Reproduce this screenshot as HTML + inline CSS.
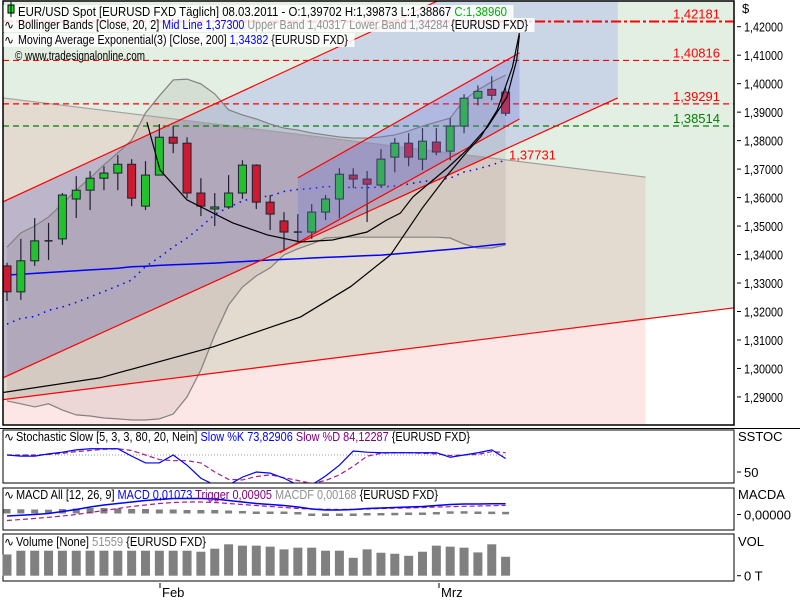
<!DOCTYPE html>
<html><head><meta charset="utf-8"><style>
body{margin:0;background:#fff;}
svg{display:block;font-family:"Liberation Sans","DejaVu Sans",sans-serif;}
</style></head><body>
<svg id="chart" width="800" height="600" viewBox="0 0 800 600" xmlns="http://www.w3.org/2000/svg">
<defs>
<clipPath id="mainClip"><rect x="3" y="1" width="731" height="424"/></clipPath>
<clipPath id="stochClip"><rect x="3" y="430" width="731" height="53"/></clipPath>
<clipPath id="macdClip"><rect x="3" y="489" width="731" height="41"/></clipPath>
</defs>
<rect width="800" height="600" fill="#fff"/>
<g id="main" clip-path="url(#mainClip)"></g>
<rect x="3" y="1" width="731" height="424" fill="none" stroke="#000" stroke-width="1.5"/>
<line x1="0" y1="428.5" x2="800" y2="428.5" stroke="#000"/>
<g id="axis"></g>
<g id="legend"></g>
<rect x="3" y="430" width="731" height="53" fill="none" stroke="#000"/>
<rect x="3" y="488" width="731" height="42" fill="none" stroke="#000"/>
<rect x="3" y="534" width="731" height="47" fill="none" stroke="#000"/>
<g id="stoch"></g>
<g id="macd"></g>
<g id="vol"></g>
<g id="lower"></g>
</svg>
<script>
const opens=[1.3360,1.3269,1.3378,1.3448,1.3455,1.3595,1.3626,1.3668,1.3686,1.3717,1.3570,1.3679,1.3812,1.3791,1.3616,1.3560,1.3567,1.3616,1.3714,1.3584,1.3518,1.3479,1.3479,1.3549,1.3595,1.3679,1.3665,1.3644,1.3742,1.3791,1.3735,1.3795,1.3763,1.3851,1.3949,1.3980,1.39702];
const closes=[1.3269,1.3378,1.3448,1.3448,1.3609,1.3626,1.3668,1.3686,1.3717,1.3598,1.3679,1.3812,1.3791,1.3616,1.3570,1.3567,1.3616,1.3714,1.3584,1.3542,1.3479,1.3479,1.3549,1.3595,1.3682,1.3665,1.3647,1.3735,1.3791,1.3742,1.3798,1.3760,1.3851,1.3949,1.3973,1.3959,1.38960];
const highs=[1.3371,1.3455,1.3528,1.3511,1.3616,1.3675,1.3693,1.3710,1.3749,1.3735,1.3728,1.3858,1.3851,1.3812,1.3668,1.3616,1.3679,1.3731,1.3717,1.3609,1.3549,1.3542,1.3577,1.3609,1.3703,1.3703,1.3693,1.3770,1.3809,1.3826,1.3844,1.3844,1.3879,1.3963,1.3994,1.4026,1.39873];
const lows=[1.3237,1.3241,1.3360,1.3381,1.3434,1.3528,1.3556,1.3626,1.3626,1.3570,1.3556,1.3679,1.3756,1.3598,1.3535,1.3500,1.3560,1.3595,1.3560,1.3486,1.3416,1.3441,1.3455,1.3521,1.3528,1.3633,1.3514,1.3637,1.3689,1.3710,1.3696,1.3749,1.3731,1.3826,1.3924,1.3942,1.38867];
const bbUpper=[1.3426,1.3476,1.3500,1.3532,1.3578,1.3627,1.3669,1.3715,1.3757,1.3802,1.3897,1.3957,1.4013,1.4016,1.3999,1.3964,1.3908,1.3890,1.3876,1.3858,1.3844,1.3837,1.3827,1.3820,1.3813,1.3809,1.3809,1.3813,1.3820,1.3834,1.3851,1.3865,1.3879,1.3943,1.3978,1.4006,1.4030];
const bbLower=[1.2886,1.2876,1.2865,1.2876,1.2854,1.2837,1.2833,1.2826,1.2823,1.2819,1.2819,1.2823,1.2840,1.2900,1.2995,1.3118,1.3223,1.3286,1.3325,1.3353,1.3399,1.3420,1.3437,1.3458,1.3461,1.3461,1.3461,1.3461,1.3461,1.3461,1.3461,1.3461,1.3458,1.3437,1.3423,1.3423,1.3434];
const ema200=[1.3328,1.3331,1.3334,1.3337,1.3340,1.3343,1.3346,1.3349,1.3352,1.3357,1.3359,1.3362,1.3364,1.3366,1.3368,1.3370,1.3373,1.3375,1.3378,1.3381,1.3383,1.3385,1.3388,1.3390,1.3392,1.3394,1.3396,1.3398,1.3402,1.3406,1.3410,1.3414,1.3418,1.3423,1.3428,1.3433,1.3438];
const stochK=[80,78,78,82,85,89,91,91,91,78,66,66,80,62,39,27,27,41,50,48,39,27,27,43,62,87,85,84,84,84,84,84,76,80,84,89,73.83];
const stochD=[80,80,80,81,83,86,88,90,91,88,80,72,70,70,66,50,37,36,42,45,40,35,30,35,45,60,78,83,84,84,83,82,79,80,81,86,84.12];
const macdLine=[-0.0015,-0.0008,0.0000,0.0010,0.0030,0.0050,0.0075,0.0095,0.0110,0.0125,0.0140,0.0150,0.0160,0.0160,0.0160,0.0155,0.0140,0.0125,0.0110,0.0100,0.0090,0.0075,0.0055,0.0045,0.0045,0.0050,0.0060,0.0065,0.0070,0.0075,0.0080,0.0090,0.0100,0.0105,0.0105,0.0107,0.01073];
const triggerLine=[-0.0060,-0.0050,-0.0040,-0.0028,-0.0015,0.0000,0.0020,0.0040,0.0060,0.0080,0.0095,0.0110,0.0120,0.0125,0.0125,0.0120,0.0110,0.0100,0.0090,0.0080,0.0070,0.0060,0.0055,0.0052,0.0050,0.0052,0.0055,0.0060,0.0063,0.0065,0.0070,0.0075,0.0078,0.0082,0.0085,0.0088,0.00905];
const volumes=[57960,68080,68080,68080,68080,68080,68080,68080,68080,68080,68080,68080,68080,68080,65320,73600,85560,81880,81880,79120,71760,76360,76360,68080,68080,48760,71760,62560,59800,54280,65320,81880,79120,76360,63480,85560,51559];
const hLevels=[1.42181,1.40816,1.39291,1.38514];
const hLabels=["1,42181","1,40816","1,39291","1,38514"];
const priceTicks=[1.42,1.41,1.40,1.39,1.38,1.37,1.36,1.35,1.34,1.33,1.32,1.31,1.30,1.29];
const priceTickLabels=["1,42000","1,41000","1,40000","1,39000","1,38000","1,37000","1,36000","1,35000","1,34000","1,33000","1,32000","1,31000","1,30000","1,29000"];
// drawings in [barIndex, price]
const lineA=[[-0.3,1.3585],[44.1,1.3300+0.1283]];
const lineB=[[-0.3,1.2967],[44.1,1.3950]];
const lineD=[[-0.4,1.2890],[52.5,1.3213]];
const lineG=[[-0.3,1.3950],[46.1,1.3672]];
const innerUpper=[[21.0,1.3669],[37.0,1.4108]];
const innerLower=[[19.7,1.3406],[37.0,1.3876]];
const arc1=[[10.1,1.3865],[11.05,1.3697],[13.0,1.3592],[16.3,1.3511],[18.8,1.3469],[21.2,1.3444],[23.5,1.3451],[26.0,1.3479],[27.4,1.3521],[28.4,1.3545],[29.3,1.3602],[31.8,1.3704],[33.2,1.3767],[34.7,1.3848],[36.1,1.3953],[36.8,1.4083],[37.0,1.4171]];
const arc2=[[-0.4,1.2915],[6.7,1.2967],[14.9,1.3076],[21.2,1.3181],[24.8,1.3287],[27.7,1.3399],[30.0,1.3564],[31.8,1.3679],[33.2,1.3760],[34.2,1.3813],[35.4,1.3908],[36.5,1.4059],[37.0,1.4178]];

const NS="http://www.w3.org/2000/svg";
const X=i=>7+13.85*i;
const Y=p=>26.7+(1.42-p)*2848;
const YS=v=>455+(80-v)*0.567;
const YM=v=>514.5-v*1000;
const YV=v=>575.7-v*0.000367;
function mk(parent,tag,attrs){const e=document.createElementNS(NS,tag);for(const k in attrs)e.setAttribute(k,attrs[k]);parent.appendChild(e);return e;}
function pts(arr){return arr.map(a=>X(a[0]).toFixed(1)+","+Y(a[1]).toFixed(1)).join(" ");}
function lineAt(l,i){const[a,b]=l;return a[1]+(b[1]-a[1])*(i-a[0])/(b[0]-a[0]);}

const main=document.getElementById('main');
let e;
e=mk(main,'rect',{x:3,y:1,width:731,height:424,fill:'#fff'});


// green above D
e=mk(main,'polygon',{points:`3,0 734,0 ${X(52.5)},${Y(lineAt(lineD,52.5))} ${X(-0.4)},${Y(lineAt(lineD,-0.4))}`,fill:'#e4efe3'});


// pink below D
e=mk(main,'polygon',{points:`${X(-0.4)},${Y(lineAt(lineD,-0.4))} ${X(46.1)},${Y(lineAt(lineD,46.1))} ${X(46.1)},430 3,430`,fill:'#fde7e6'});


// tan between G and D
const tanPts=`${X(-0.3)},${Y(lineAt(lineG,-0.3))} ${X(46.1)},${Y(lineAt(lineG,46.1))} ${X(46.1)},${Y(lineAt(lineD,46.1))} ${X(-0.4)},${Y(lineAt(lineD,-0.4))}`;
e=mk(main,'polygon',{points:tanPts,fill:'#e3dad0'});


// channel A-B
const chPts=`${X(-0.3)},${Y(lineAt(lineA,-0.3))} ${X(44.1)},${Y(lineAt(lineA,44.1))} ${X(44.1)},${Y(lineAt(lineB,44.1))} ${X(-0.3)},${Y(lineAt(lineB,-0.3))}`;
e=mk(main,'polygon',{points:chPts,fill:'#cad5e5'});


const defs=document.querySelector('defs');
const cp=mk(defs,'clipPath',{id:'tanClip'});mk(cp,'polygon',{points:tanPts});
e=mk(main,'polygon',{points:chPts,fill:'#bdb5c9','clip-path':'url(#tanClip)'});


// bollinger fill
let bf=bbUpper.map((v,i)=>X(i)+","+Y(v)).join(" ")+" "+bbLower.map((v,i)=>X(i)+","+Y(v)).reverse().join(" ");
e=mk(main,'polygon',{points:bf,fill:'rgba(40,30,20,0.08)'});


// G line
e=mk(main,'polyline',{points:pts(lineG),stroke:'#a0a0a0',fill:'none','stroke-width':1.2});


// horizontal levels
hLevels.forEach((p,k)=>{
  const col=k===3?'#008000':'#ff0000';
  const l=mk(main,'line',{x1:3,x2:734,y1:Y(p),y2:Y(p),stroke:col,'stroke-width':k===0?2:1.2,'stroke-dasharray':k===0?'10,3,3,3':'6,4'});
  
  
  const t=mk(main,'text',{x:720,y:Y(p)-3,'text-anchor':'end','font-size':13,fill:col});
  t.textContent=hLabels[k];
  
  
});
// bollinger lines
['bbUpper','bbLower'].forEach((nm,k)=>{
  const arr=k?bbLower:bbUpper;
  const l=mk(main,'polyline',{points:arr.map((v,i)=>X(i)+","+Y(v)).join(" "),stroke:'#858080',fill:'none','stroke-width':1.2});
  
  
});
e=mk(main,'polyline',{points:bbUpper.map((v,i)=>X(i)+","+Y((v+bbLower[i])/2)).join(" "),stroke:'#0000ff',fill:'none','stroke-width':1.5,'stroke-dasharray':'1.5,5'});


e=mk(main,'polyline',{points:ema200.map((v,i)=>X(i)+","+Y(v)).join(" "),stroke:'#0000ff',fill:'none','stroke-width':1.5});


// red trendlines
[[lineA,'trendline-upper'],[lineB,'trendline-lower'],[lineD,'trendline-bottom']].forEach(([l,n])=>{
  const q=mk(main,'polyline',{points:pts(l),stroke:'#ff0000',fill:'none','stroke-width':1.2});
  
  
});
e=mk(main,'text',{x:X(36.1)+2,y:Y(1.37731)+11,'font-size':13,fill:'#ff0000'});
e.textContent='1,37731';


// candles
for(let i=0;i<opens.length;i++){
  const up=closes[i]>=opens[i];
  const g=mk(main,'g',{});
  
  
  mk(g,'line',{x1:X(i),x2:X(i),y1:Y(highs[i]),y2:Y(lows[i]),stroke:'#202030','stroke-width':1.2});
  const top=Y(Math.max(opens[i],closes[i])),bot=Y(Math.min(opens[i],closes[i]));
  if(bot-top<1.5){mk(g,'line',{x1:X(i)-4,x2:X(i)+4,y1:top,y2:top,stroke:'#202030','stroke-width':1.5});}
  else mk(g,'rect',{x:X(i)-4,y:top,width:8,height:bot-top,fill:up?'#22c22e':'#cc1a30',stroke:'#202030','stroke-width':1});
}
// inner channel
const icPts=`${X(21)},${Y(lineAt(innerUpper,21))} ${X(37)},${Y(lineAt(innerUpper,37))} ${X(37)},${Y(lineAt(innerLower,37))} ${X(21)},${Y(lineAt(innerLower,21))}`;
e=mk(main,'polygon',{points:icPts,fill:'rgba(110,115,215,0.28)'});


[[innerUpper,'inner-channel-upper'],[innerLower,'inner-channel-lower']].forEach(([l,n])=>{
  const q=mk(main,'polyline',{points:pts(l),stroke:'#ff0000',fill:'none','stroke-width':1.2});
  
  
});
[[arc1,'arc-drawing'],[arc2,'curve-drawing']].forEach(([a,n])=>{
  const q=mk(main,'polyline',{points:pts(a),stroke:'#000',fill:'none','stroke-width':1.2});
  
  
});

// axis
const ax=document.getElementById('axis');
e=mk(ax,'text',{x:742,y:13,'font-size':13});e.textContent='$';


priceTicks.forEach((p,k)=>{
  const l=mk(ax,'line',{x1:737,x2:741,y1:Y(p),y2:Y(p),stroke:'#000'});
  
  
  const t=mk(ax,'text',{x:744,y:Y(p)+5,'font-size':13,textLength:39,lengthAdjust:'spacingAndGlyphs'});
  t.textContent=priceTickLabels[k];
  
  
});

// legends
function legendLine(parent,x,y,w,parts,name,bg){
  if(bg){const r=mk(parent,'rect',{x:3.5,y:y-11,width:w+x+3,height:14,fill:'rgba(255,255,255,0.85)'});
    
    }
  const t=mk(parent,'text',{x:x,y:y,'font-size':13,textLength:w,lengthAdjust:'spacingAndGlyphs'});
  
  
  parts.forEach(([s,c])=>{const sp=mk(t,'tspan',{fill:c});sp.textContent=s;});
  return t;
}
const lg=document.getElementById('legend');
legendLine(lg,18,16,489,[['EUR/USD Spot [EURUSD FXD  Täglich] 08.03.2011 - O:1,39702 H:1,39873 L:1,38867 ','#000'],['C:1,38960','#00b000']],'title-legend',true);
e=mk(lg,'rect',{x:8,y:5,width:6,height:8,fill:'#20e020',stroke:'#000'});


mk(lg,'line',{x1:11,x2:11,y1:2,y2:17,stroke:'#000'});
legendLine(lg,18,29,510,[['Bollinger Bands [Close, 20, 2] ','#000'],['Mid Line 1,37300 ','#0000ff'],['Upper Band 1,40317 Lower Band 1,34284 ','#909090'],['{EURUSD FXD}','#000']],'bollinger-legend',true);
legendLine(lg,18,44,330,[['Moving Average Exponential(3) [Close, 200] ','#000'],['1,34382 ','#0000ff'],['{EURUSD FXD}','#000']],'ema-legend',true);
legendLine(lg,15,60,130,[['© www.tradesignalonline.com','#000']],'copyright',false);
[29,44].forEach(y=>{const t=mk(lg,'text',{x:4,y:y,'font-size':12});t.textContent='∿';
  
  });

// stochastic
const st=document.getElementById('stoch');
const sg=mk(st,'g',{'clip-path':'url(#stochClip)'});
e=mk(sg,'line',{x1:X(0),x2:X(36),y1:YS(80),y2:YS(80),stroke:'#999','stroke-dasharray':'1,2'});


e=mk(sg,'polyline',{points:stochD.map((v,i)=>X(i)+","+YS(v)).join(" "),stroke:'#a0208a',fill:'none','stroke-width':1.2,'stroke-dasharray':'5,3'});


e=mk(sg,'polyline',{points:stochK.map((v,i)=>X(i)+","+YS(v)).join(" "),stroke:'#0000ff',fill:'none','stroke-width':1.2});


legendLine(st,16,441,454,[['Stochastic Slow [5, 3, 3, 80, 20, Nein] ','#000'],['Slow %K 73,82906 ','#0000ff'],['Slow %D 84,12287 ','#800080'],['{EURUSD FXD}','#000']],'stochastic-legend',false);

// macd
const mc=document.getElementById('macd');
const mg=mk(mc,'g',{'clip-path':'url(#macdClip)'});
macdLine.forEach((v,i)=>{
  const h=v-triggerLine[i];
  const y0=YM(0),y1=YM(h);
  const r=mk(mg,'rect',{x:X(i)-3.5,y:Math.min(y0,y1)-1,width:7,height:Math.max(2.5,Math.abs(y1-y0)),fill:'#808080'});
  
  
});
e=mk(mg,'polyline',{points:triggerLine.map((v,i)=>X(i)+","+YM(v)).join(" "),stroke:'#a0208a',fill:'none','stroke-width':1.2,'stroke-dasharray':'5,3'});


e=mk(mg,'polyline',{points:macdLine.map((v,i)=>X(i)+","+YM(v)).join(" "),stroke:'#0000ff',fill:'none','stroke-width':1.5});


legendLine(mc,16,499,422,[['MACD All [12, 26, 9] ','#000'],['MACD 0,01073 ','#0000ff'],['Trigger 0,00905 ','#800080'],['MACDF 0,00168 ','#909090'],['{EURUSD FXD}','#000']],'macd-legend',false);

// volume
const vg=document.getElementById('vol');
volumes.forEach((v,i)=>{
  const r=mk(vg,'rect',{x:X(i)-4.5,y:YV(v),width:9,height:YV(0)-YV(v),fill:'#808080'});
  
  
});
e=mk(vg,'rect',{x:4,y:535,width:204,height:13,fill:'rgba(255,255,255,0.6)'});


legendLine(vg,16,546,190,[['Volume [None] ','#000'],['51559 ','#909090'],['{EURUSD FXD}','#000']],'volume-legend',false);
[441,499,546].forEach(y=>{const t=mk(vg,'text',{x:4,y:y,'font-size':12});t.textContent='∿';
  
  });

// right labels & dates
const lw=document.getElementById('lower');
[['SSTOC',738,441],['MACDA',738,499],['VOL',738,546]].forEach(([s,x,y])=>{
  const t=mk(lw,'text',{x:x,y:y,'font-size':13});t.textContent=s;
  
  
});
[['50',YS(50)],['0,00000',YM(0)],['0 T',YV(0)]].forEach(([s,y])=>{
  mk(lw,'line',{x1:737,x2:741,y1:y,y2:y,stroke:'#000'});
  const t=mk(lw,'text',{x:744,y:y+5,'font-size':13});t.textContent=s;
  
  
});
[['Feb',160],['Mrz',439]].forEach(([s,x])=>{
  mk(lw,'line',{x1:x,x2:x,y1:583,y2:588,stroke:'#000'});
  const t=mk(lw,'text',{x:x+2,y:597,'font-size':13});t.textContent=s;
  
  
});
</script>
</body></html>
